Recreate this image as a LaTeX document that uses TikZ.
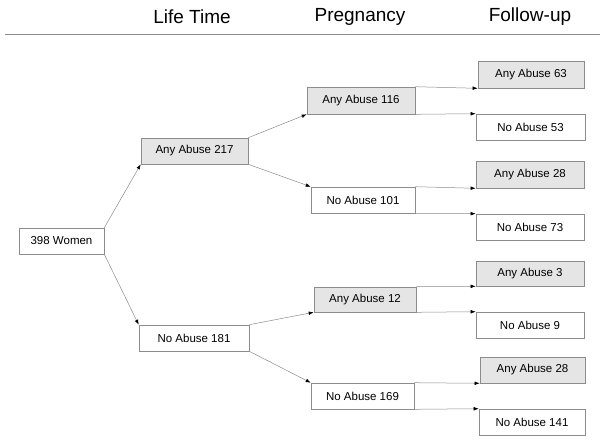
\documentclass[tikz,border=0pt]{standalone}
\usepackage{fontspec}
\setmainfont{Liberation Sans}
\usetikzlibrary{arrows.meta}
\begin{document}
\begin{tikzpicture}[x=1pt,y=-1pt,
  box/.style={draw=black!45,line width=0.6pt,inner sep=0pt,font=\fontsize{11.5}{13}\selectfont,fill=white},
  anybox/.style={box,fill=black!10},
  conn/.style={draw=black!45,line width=0.5pt,-{Latex[length=5pt,width=3.6pt,color=black]}},
  head/.style={font=\fontsize{19}{22}\selectfont}]
\useasboundingbox (0,0) rectangle (600,442);
\node[head] (h1) at (192,17) {Life Time};
\node[head] (h2) at (360,17) {Pregnancy};
\node[head] (h3) at (530,17) {Follow-up};
\coordinate (l0) at (5,34);
\coordinate (l1) at (600,34);
\draw[black!45,line width=0.8pt] (l0) -- (l1);
% nodes
\node[box,minimum width=85pt,minimum height=26pt] (w) at (61.5,241) {398 Women};
\node[anybox,minimum width=107pt,minimum height=26pt] (a217) at (194.5,151) {Any Abuse 217};
\node[box,minimum width=110pt,minimum height=26pt] (n181) at (194,338) {No Abuse 181};
\node[anybox,minimum width=108pt,minimum height=27pt] (a116) at (361,100.5) {Any Abuse 116};
\node[box,minimum width=104pt,minimum height=26pt] (n101) at (363,200) {No Abuse 101};
\node[anybox,minimum width=102pt,minimum height=25pt] (a12) at (365,299.5) {Any Abuse 12};
\node[box,minimum width=103pt,minimum height=26pt] (n169) at (362.5,396) {No Abuse 169};
\node[anybox,minimum width=106pt,minimum height=27pt] (f1) at (531,74.5) {Any Abuse 63};
\node[box,minimum width=109pt,minimum height=26pt] (f2) at (530.5,127) {No Abuse 53};
\node[anybox,minimum width=108pt,minimum height=27pt] (f3) at (530,174.5) {Any Abuse 28};
\node[box,minimum width=108pt,minimum height=26pt] (f4) at (530,227) {No Abuse 73};
\node[anybox,minimum width=108pt,minimum height=25pt] (f5) at (530,273.5) {Any Abuse 3};
\node[box,minimum width=108pt,minimum height=26pt] (f6) at (530,325) {No Abuse 9};
\node[anybox,minimum width=105pt,minimum height=26pt] (f7) at (532.5,370) {Any Abuse 28};
\node[box,minimum width=106pt,minimum height=26pt] (f8) at (532,422) {No Abuse 141};
% connectors
\draw[conn] (w.north east) -- (a217.south west);
\draw[conn] (w.south east) -- (n181.north west);
\draw[conn] (a217.north east) -- (a116.south west);
\draw[conn] (a217.south east) -- (n101.north west);
\draw[conn] (n181.north east) -- (a12.south west);
\draw[conn] (n181.south east) -- (n169.north west);
\draw[conn] (a116.north east) -- (f1.south west);
\draw[conn] (a116.south east) -- (f2.north west);
\draw[conn] (n101.north east) -- (f3.south west);
\draw[conn] (n101.south east) -- (f4.north west);
\draw[conn] (a12.north east) -- (f5.south west);
\draw[conn] (a12.south east) -- (f6.north west);
\draw[conn] (n169.north east) -- (f7.south west);
\draw[conn] (n169.south east) -- (f8.north west);
\end{tikzpicture}
\end{document}
